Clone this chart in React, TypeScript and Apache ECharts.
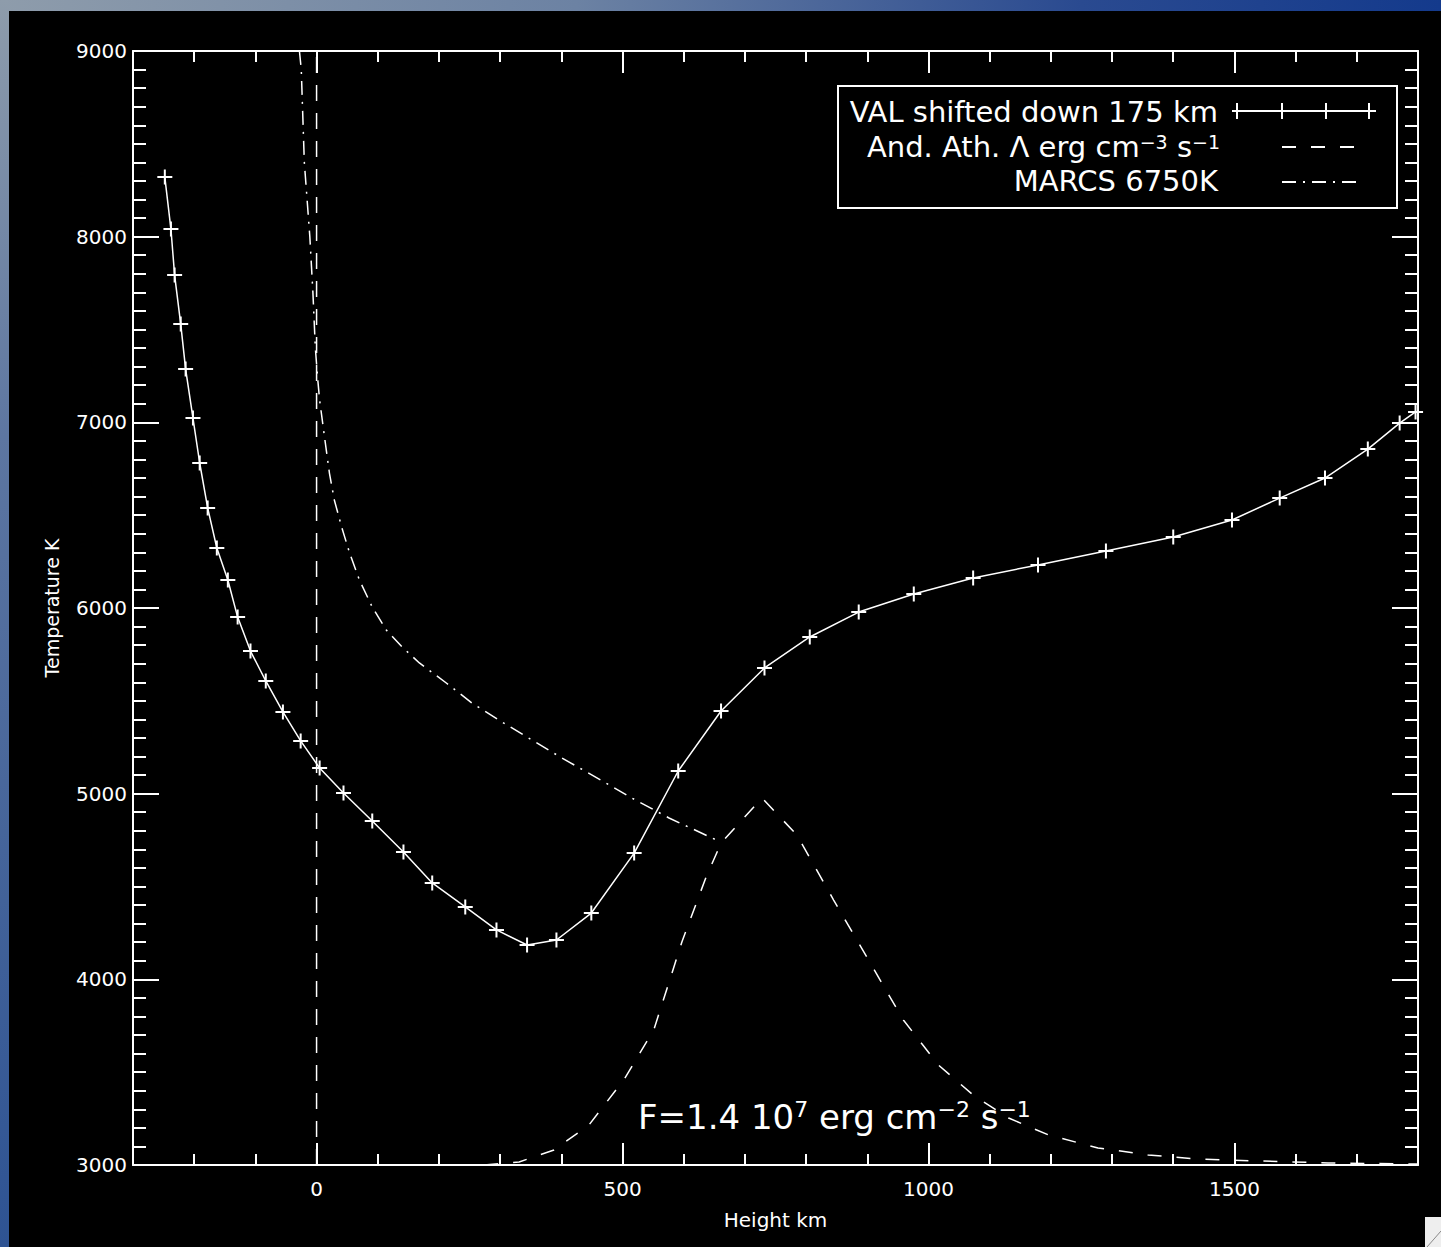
import React, { useEffect, useRef } from "react";
import * as echarts from "echarts";

// ---------- data (height km, temperature K) ----------
const valHeight = [-248, -238, -232, -222, -214, -202, -191, -178, -163, -145, -129, -108, -83, -55, -26, 5, 44, 91, 142, 189, 243, 294, 344, 392, 449, 519, 591, 661, 732, 806, 886, 976, 1073, 1179, 1290, 1400, 1496, 1574, 1648, 1718, 1770, 1796];
const valTemp = [8321, 8041, 7793, 7529, 7287, 7023, 6781, 6539, 6323, 6151, 5951, 5768, 5607, 5440, 5284, 5138, 5004, 4853, 4686, 4519, 4390, 4266, 4185, 4212, 4357, 4680, 5122, 5445, 5677, 5844, 5978, 6075, 6162, 6232, 6307, 6382, 6474, 6592, 6700, 6856, 6996, 7056];

const aaHeight = [274, 331, 388, 445, 502, 551, 597, 636, 661, 728, 785, 845, 902, 959, 1016, 1073, 1131, 1196, 1277, 1359, 1440, 1538, 1653, 1800];
const aaTemp = [3000, 3016, 3081, 3215, 3458, 3727, 4201, 4546, 4734, 4977, 4777, 4427, 4104, 3781, 3539, 3377, 3253, 3162, 3092, 3054, 3032, 3022, 3011, 3005];

const marcsHeight = [-28, -25, -20, -11, -6, -2, 2, 5, 13, 21, 29, 41, 54, 70, 91, 114, 140, 168, 212, 254, 303, 352, 401, 470, 515, 576, 657];
const marcsTemp = [9000, 8900, 8400, 8000, 7700, 7400, 7228, 7120, 6921, 6727, 6582, 6436, 6296, 6151, 6005, 5881, 5790, 5704, 5596, 5488, 5386, 5289, 5192, 5063, 4977, 4869, 4745];

const zeroHeight = [0, 0];
const zeroTemp = [3000, 9000];

const xMajorTicks = [0, 500, 1000, 1500];
const X_MIN = -300;
const X_MAX = 1800;
const Y_MIN = 3000;
const Y_MAX = 9000;

const FONT = '"DejaVu Sans", Verdana, sans-serif';
const WHITE = "#ffffff";
const CROSS = "path://M6.5,0H8.5V6.5H15V8.5H8.5V15H6.5V8.5H0V6.5H6.5Z";

const pairs = (xs: number[], ys: number[]) => xs.map((x, i) => [x, ys[i]]);
const plain = (v: number) => String(v);

function xAxisPair(position: "bottom" | "top", withLabels: boolean) {
  return [
    {
      type: "value",
      position,
      min: X_MIN,
      max: X_MAX,
      axisLine: { show: true, onZero: false, lineStyle: { color: WHITE, width: 2 } },
      axisTick: { show: true, inside: true, length: 22, customValues: xMajorTicks, lineStyle: { color: WHITE, width: 2 } },
      axisLabel: withLabels
        ? { show: true, customValues: xMajorTicks, formatter: plain, color: WHITE, fontSize: 20, fontFamily: FONT, margin: 14 }
        : { show: false },
      splitLine: { show: false },
      ...(withLabels
        ? {
            name: "Height km",
            nameLocation: "middle",
            nameGap: 45,
            nameTextStyle: { color: WHITE, fontSize: 20, fontFamily: FONT },
          }
        : {}),
    },
    {
      type: "value",
      position,
      min: X_MIN,
      max: X_MAX,
      interval: 100,
      axisLine: { show: false, onZero: false },
      axisTick: { show: true, inside: true, length: 11, lineStyle: { color: WHITE, width: 2 } },
      axisLabel: { show: false },
      splitLine: { show: false },
    },
  ];
}

function yAxisPair(position: "left" | "right", withLabels: boolean) {
  return [
    {
      type: "value",
      position,
      min: Y_MIN,
      max: Y_MAX,
      interval: 1000,
      axisLine: { show: true, onZero: false, lineStyle: { color: WHITE, width: 2 } },
      axisTick: { show: true, inside: true, length: 26, lineStyle: { color: WHITE, width: 2 } },
      axisLabel: withLabels
        ? { show: true, formatter: plain, color: WHITE, fontSize: 20, fontFamily: FONT, margin: 6 }
        : { show: false },
      splitLine: { show: false },
      ...(withLabels
        ? {
            name: "Temperature K",
            nameLocation: "middle",
            nameGap: 72,
            nameTextStyle: { color: WHITE, fontSize: 19, fontFamily: FONT },
          }
        : {}),
    },
    {
      type: "value",
      position,
      min: Y_MIN,
      max: Y_MAX,
      interval: 100,
      axisLine: { show: false, onZero: false },
      axisTick: { show: true, inside: true, length: 13, lineStyle: { color: WHITE, width: 2 } },
      axisLabel: { show: false },
      splitLine: { show: false },
    },
  ];
}

const legendRich = {
  sup: { fontSize: 19, fontFamily: FONT, fill: WHITE, color: WHITE, lineHeight: 14, verticalAlign: "top" },
  n: { fontSize: 29, fontFamily: FONT, fill: WHITE, color: WHITE, lineHeight: 30 },
};
const bigRich = {
  sup: { fontSize: 22, fontFamily: FONT, fill: WHITE, color: WHITE, lineHeight: 16, verticalAlign: "top" },
  n: { fontSize: 34, fontFamily: FONT, fill: WHITE, color: WHITE, lineHeight: 38 },
};

function buildOption() {
  const legendX = 829;
  const legendY = 75;
  const crossXs = [1228, 1273, 1317, 1360];
  return {
    animation: false,
    backgroundColor: "#000000",
    grid: { left: 124, top: 40, right: 23, bottom: 82, containLabel: false },
    xAxis: [...xAxisPair("bottom", true), ...xAxisPair("top", false)],
    yAxis: [...yAxisPair("left", true), ...yAxisPair("right", false)],
    series: [
      {
        name: "VAL shifted down 175 km",
        type: "line",
        xAxisIndex: 0,
        yAxisIndex: 0,
        data: pairs(valHeight, valTemp),
        symbol: CROSS,
        symbolSize: 15,
        showSymbol: true,
        lineStyle: { color: WHITE, width: 1.5 },
        itemStyle: { color: WHITE },
        clip: true,
        z: 5,
      },
      {
        name: "And. Ath. Λ erg cm−3 s−1",
        type: "line",
        xAxisIndex: 0,
        yAxisIndex: 0,
        data: pairs(aaHeight, aaTemp),
        showSymbol: false,
        symbol: "none",
        lineStyle: { color: WHITE, width: 1.5, type: [14, 15] },
        clip: true,
      },
      {
        name: "MARCS 6750K",
        type: "line",
        xAxisIndex: 0,
        yAxisIndex: 0,
        data: pairs(marcsHeight, marcsTemp),
        showSymbol: false,
        symbol: "none",
        lineStyle: { color: WHITE, width: 1.5, type: [14, 7, 2, 7] },
        clip: true,
      },
      {
        name: "zero",
        type: "line",
        xAxisIndex: 0,
        yAxisIndex: 0,
        data: pairs(zeroHeight, zeroTemp),
        showSymbol: false,
        symbol: "none",
        lineStyle: { color: WHITE, width: 1.5, type: [16, 12] },
        clip: true,
      },
    ],
    graphic: [
      {
        type: "rect",
        shape: { x: legendX, y: legendY, width: 559, height: 122 },
        style: { fill: "none", stroke: WHITE, lineWidth: 2 },
        z: 10,
      },
      {
        type: "text",
        x: 1209,
        y: 101,
        style: {
          text: "VAL shifted down 175 km",
          fill: WHITE,
          fontSize: 29,
          fontFamily: FONT,
          align: "right",
          verticalAlign: "middle",
        },
        z: 10,
      },
      {
        type: "line",
        shape: { x1: 1223, y1: 100, x2: 1367, y2: 100 },
        style: { stroke: WHITE, lineWidth: 2 },
        z: 10,
      },
      ...crossXs.map((cx) => ({
        type: "line",
        shape: { x1: cx, y1: 92, x2: cx, y2: 108 },
        style: { stroke: WHITE, lineWidth: 2 },
        z: 10,
      })),
      {
        type: "text",
        x: 1211,
        y: 136,
        style: {
          text: "{n|And. Ath. Λ erg cm}{sup|−3}{n| s}{sup|−1}",
          rich: legendRich,
          fill: WHITE,
          fontSize: 29,
          fontFamily: FONT,
          align: "right",
          verticalAlign: "middle",
        },
        z: 10,
      },
      {
        type: "line",
        shape: { x1: 1273, y1: 136, x2: 1345, y2: 136 },
        style: { stroke: WHITE, lineWidth: 2, lineDash: [14, 15] },
        z: 10,
      },
      {
        type: "text",
        x: 1209,
        y: 170,
        style: {
          text: "MARCS 6750K",
          fill: WHITE,
          fontSize: 29,
          fontFamily: FONT,
          align: "right",
          verticalAlign: "middle",
        },
        z: 10,
      },
      {
        type: "line",
        shape: { x1: 1273, y1: 171, x2: 1353, y2: 171 },
        style: { stroke: WHITE, lineWidth: 2, lineDash: [14, 7, 2, 7] },
        z: 10,
      },
      {
        type: "text",
        x: 629,
        y: 1106,
        style: {
          text: "{n|F=1.4 10}{sup|7}{n| erg cm}{sup|−2}{n| s}{sup|−1}",
          rich: bigRich,
          fill: WHITE,
          fontSize: 34,
          fontFamily: FONT,
          align: "left",
          verticalAlign: "middle",
        },
        z: 10,
      },
      {
        type: "rect",
        shape: { x: 1416, y: 1206, width: 20, height: 34 },
        style: { fill: "#eeeeee" },
        z: 10,
      },
      {
        type: "line",
        shape: { x1: 1418, y1: 1236, x2: 1432, y2: 1220 },
        style: { stroke: "#888888", lineWidth: 1 },
        z: 11,
      },
    ],
  };
}

export default function App() {
  const ref = useRef<HTMLDivElement | null>(null);
  useEffect(() => {
    if (!ref.current) return;
    const chart = echarts.init(ref.current, undefined, { renderer: "svg" });
    chart.setOption(buildOption() as any);
    return () => chart.dispose();
  }, []);
  return (
    <div
      style={{
        position: "fixed",
        left: 0,
        top: 0,
        width: 1441,
        height: 1247,
        overflow: "hidden",
        background: "#1c3f8c",
      }}
    >
      <div
        style={{
          position: "absolute",
          left: 0,
          top: 0,
          width: 1441,
          height: 11,
          background: "linear-gradient(to right, #8e9cab 0%, #6c82a3 40%, #2a4a90 75%, #143a8c 100%)",
        }}
      />
      <div
        style={{
          position: "absolute",
          left: 0,
          top: 0,
          width: 9,
          height: 1247,
          background: "linear-gradient(to bottom, #8e9cab 0%, #5d76a1 35%, #2e5393 100%)",
        }}
      />
      <div
        ref={ref}
        style={{ position: "absolute", left: 9, top: 11, width: 1432, height: 1236, background: "#000" }}
      />
    </div>
  );
}
